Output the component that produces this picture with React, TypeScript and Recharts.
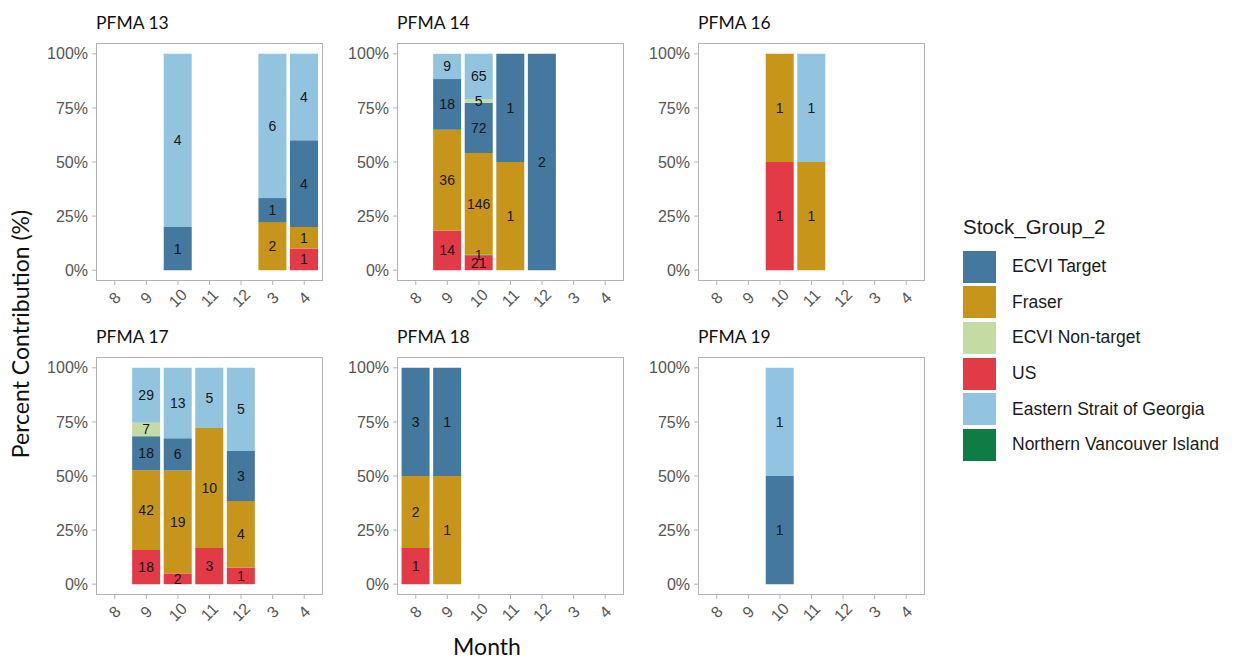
import { BarChart, Bar, XAxis, YAxis, LabelList } from "recharts";

const MONTHS = ["8", "9", "10", "11", "12", "3", "4"];
const PCT_TICKS = [0, 0.25, 0.5, 0.75, 1];

// stack order, bottom to top
const GROUPS = [
  { key: "us", name: "US", color: "#e23b47" },
  { key: "nvi", name: "Northern Vancouver Island", color: "#0f7b45" },
  { key: "fraser", name: "Fraser", color: "#c8951b" },
  { key: "ecviTarget", name: "ECVI Target", color: "#44789e" },
  { key: "ecviNon", name: "ECVI Non-target", color: "#c4dca4" },
  { key: "esog", name: "Eastern Strait of Georgia", color: "#92c4df" },
];
const LEGEND_ORDER = ["ecviTarget", "fraser", "ecviNon", "us", "esog", "nvi"];

// fish counts by month, indexed like MONTHS
const PFMA_13 = {
  us: [0, 0, 0, 0, 0, 0, 1],
  fraser: [0, 0, 0, 0, 0, 2, 1],
  ecviTarget: [0, 0, 1, 0, 0, 1, 4],
  esog: [0, 0, 4, 0, 0, 6, 4],
};
const PFMA_14 = {
  us: [0, 14, 21, 0, 0, 0, 0],
  nvi: [0, 0, 1, 0, 0, 0, 0],
  fraser: [0, 36, 146, 1, 0, 0, 0],
  ecviTarget: [0, 18, 72, 1, 2, 0, 0],
  ecviNon: [0, 0, 5, 0, 0, 0, 0],
  esog: [0, 9, 65, 0, 0, 0, 0],
};
const PFMA_16 = {
  us: [0, 0, 1, 0, 0, 0, 0],
  fraser: [0, 0, 1, 1, 0, 0, 0],
  esog: [0, 0, 0, 1, 0, 0, 0],
};
const PFMA_17 = {
  us: [0, 18, 2, 3, 1, 0, 0],
  fraser: [0, 42, 19, 10, 4, 0, 0],
  ecviTarget: [0, 18, 6, 0, 3, 0, 0],
  ecviNon: [0, 7, 0, 0, 0, 0, 0],
  esog: [0, 29, 13, 5, 5, 0, 0],
};
const PFMA_18 = {
  us: [1, 0, 0, 0, 0, 0, 0],
  fraser: [2, 1, 0, 0, 0, 0, 0],
  ecviTarget: [3, 1, 0, 0, 0, 0, 0],
};
const PFMA_19 = {
  ecviTarget: [0, 0, 1, 0, 0, 0, 0],
  esog: [0, 0, 1, 0, 0, 0, 0],
};

const PANELS = [
  { title: "PFMA 13", counts: PFMA_13, left: 96, top: 43 },
  { title: "PFMA 14", counts: PFMA_14, left: 397, top: 43 },
  { title: "PFMA 16", counts: PFMA_16, left: 698, top: 43 },
  { title: "PFMA 17", counts: PFMA_17, left: 96, top: 357 },
  { title: "PFMA 18", counts: PFMA_18, left: 397, top: 357 },
  { title: "PFMA 19", counts: PFMA_19, left: 698, top: 357 },
];

const PLOT_W = 227;
const PLOT_H = 238;
const Y_W = 60;
const X_H = 40;
const FRAME = "#b3b3b3";
const AXIS_TEXT = "#555555";
const ARIAL = "'Liberation Sans', Arial, sans-serif";
const TITLE_FONT = "Lato, 'Open Sans', sans-serif";

// each month becomes one row: share of the month total per group (bar height)
// plus the raw count under "<key>_n" (bar label)
function toRows(counts: Record<string, number[]>) {
  return MONTHS.map((month, i) => {
    const row: Record<string, string | number> = { month };
    const total = GROUPS.reduce((s, g) => s + (counts[g.key]?.[i] ?? 0), 0);
    GROUPS.forEach((g) => {
      const n = counts[g.key]?.[i] ?? 0;
      row[g.key] = total ? n / total : 0;
      row[`${g.key}_n`] = n;
    });
    return row;
  });
}

function MonthTick(props: any) {
  const { x, y, payload } = props;
  const cy = y + 11;
  return (
    <text
      x={x}
      y={cy}
      textAnchor="middle"
      dominantBaseline="central"
      transform={`rotate(-45 ${x} ${cy})`}
      fill={AXIS_TEXT}
      fontSize={16}
      fontFamily={ARIAL}
    >
      {payload.value}
    </text>
  );
}

function Panel({ title, counts, left, top }: { title: string; counts: Record<string, number[]>; left: number; top: number }) {
  const rows = toRows(counts);
  return (
    <>
      <div
        style={{
          position: "absolute",
          left,
          top: top - 30,
          fontFamily: TITLE_FONT,
          fontSize: 17.5,
          lineHeight: "20px",
          color: "#111",
        }}
      >
        {title}
      </div>
      <div style={{ position: "absolute", left: left - Y_W, top }}>
        <BarChart
          width={Y_W + PLOT_W}
          height={PLOT_H + X_H}
          data={rows}
          barCategoryGap="5%"
          margin={{ top: 0, right: 0, bottom: 0, left: 0 }}
        >
          <XAxis
            dataKey="month"
            height={X_H}
            padding={{ left: 3, right: 3 }}
            interval={0}
            axisLine={false}
            tickLine={{ stroke: FRAME }}
            tickSize={4}
            tick={MonthTick}
          />
          <YAxis
            width={Y_W}
            type="number"
            domain={[-0.05, 1.05]}
            allowDataOverflow
            ticks={PCT_TICKS}
            tickFormatter={(v: number) => `${Math.round(v * 100)}%`}
            axisLine={false}
            tickLine={{ stroke: FRAME }}
            tickSize={4}
            tickMargin={4}
            tick={{ fill: AXIS_TEXT, fontSize: 16, fontFamily: ARIAL }}
          />
          {GROUPS.map((g) => (
            <Bar key={g.key} dataKey={g.key} stackId="a" fill={g.color} isAnimationActive={false}>
              <LabelList
                dataKey={`${g.key}_n`}
                position="center"
                formatter={(v: any) => (v ? v : "")}
                fill="#151515"
                fontSize={14}
                fontFamily={ARIAL}
              />
            </Bar>
          ))}
        </BarChart>
      </div>
      <div
        style={{
          position: "absolute",
          left,
          top,
          width: PLOT_W,
          height: PLOT_H,
          border: `1px solid ${FRAME}`,
          boxSizing: "border-box",
          pointerEvents: "none",
        }}
      />
    </>
  );
}

function StockLegend() {
  return (
    <div style={{ position: "absolute", left: 963, top: 216, fontFamily: ARIAL, color: "#1a1a1a" }}>
      <div style={{ fontSize: 20.5, lineHeight: "22px", marginBottom: 11 }}>Stock_Group_2</div>
      {LEGEND_ORDER.map((key) => {
        const g = GROUPS.find((x) => x.key === key)!;
        return (
          <div key={key} style={{ display: "flex", alignItems: "center", height: 35.6 }}>
            <div style={{ width: 33, height: 32, background: g.color }} />
            <span style={{ marginLeft: 16, fontSize: 17.5 }}>{g.name}</span>
          </div>
        );
      })}
    </div>
  );
}

export default function App() {
  return (
    <div style={{ position: "absolute", left: 0, top: 0, width: 1243, height: 659, background: "#fff", overflow: "hidden" }}>
      {PANELS.map((p) => (
        <Panel key={p.title} {...p} />
      ))}
      <svg width={1243} height={659} style={{ position: "absolute", left: 0, top: 0, pointerEvents: "none" }}>
        <text
          x={29}
          y={334}
          transform="rotate(-90 29 334)"
          textAnchor="middle"
          fontFamily={TITLE_FONT}
          fontSize={23}
          fill="#111"
        >
          Percent Contribution (%)
        </text>
        <text x={487} y={655} textAnchor="middle" fontFamily={TITLE_FONT} fontSize={23} fill="#111">
          Month
        </text>
      </svg>
      <StockLegend />
    </div>
  );
}
